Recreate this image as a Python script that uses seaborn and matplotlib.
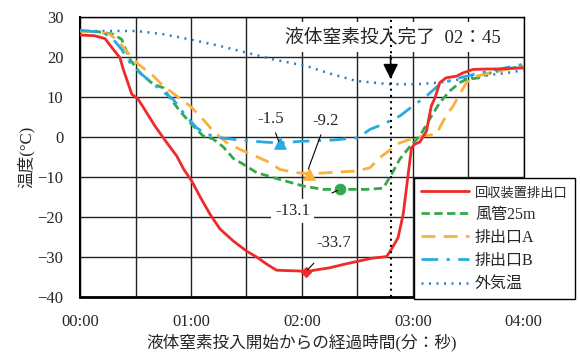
import matplotlib
matplotlib.use('Agg')
import matplotlib.pyplot as plt
import seaborn as sns

# time in seconds since start, temperature in deg C
t_red = [0, 8, 13.5, 18, 21.6, 23.4, 28, 31.5, 36, 40.5, 46.9, 52.3, 56, 60.4, 65, 70.3, 75.7, 82.9, 90, 95.5,
         101, 106.3, 112, 119, 122, 128, 135, 143, 151, 158, 165.8, 168.5, 172, 174.8, 177.5, 179.3, 181, 183.8,
         187.4, 190, 192, 194.6, 198, 203.6, 207, 212.6, 220, 227, 240]
v_red = [25.5, 25.3, 24.6, 21.9, 19.8, 16.9, 10.7, 9.4, 6.1, 2.75, -1.4, -4.75, -8.0, -11, -15, -19.3, -23, -26,
         -28.5, -30, -31.8, -33.3, -33.4, -33.5, -33.7, -33.2, -32.7, -31.8, -31, -30.3, -29.9, -28, -25.2, -19.3,
         -9.3, -2.7, -1.8, -1.25, 1.5, 7.75, 9.8, 13.6, 14.8, 15.2, 16, 16.9, 17, 17, 17.3]

t_green = [0, 10, 18, 22.5, 27, 32.4, 39.6, 45, 48.6, 54, 59.5, 66.6, 72, 77.5, 83, 88.3, 95.5, 108, 120.7, 131.5,
           140.5, 155, 164, 168.5, 173, 178.4, 183.8, 189, 194.6, 200, 205.4, 209, 216, 221.6, 230.6, 240]
v_green = [26.5, 26.3, 25.7, 24.4, 19.4, 16, 13.2, 12.3, 9.8, 6.5, 3.6, 0.25, -0.5, -2.5, -5.4, -6.8, -8.9, -10.6,
           -12.25, -13.1, -13.1, -13.1, -12.8, -9.3, -5.5, -2.4, 0.25, 4.4, 8.6, 11.5, 13.6, 14.4, 14.8, 16, 17, 17.7]

t_a = [0, 10, 16, 20.7, 25, 31.5, 38.7, 45, 52.3, 59.5, 66.6, 72, 79.3, 86.5, 95.5, 102.7, 108, 117, 124, 135,
       149.5, 156.8, 162, 165.8, 169, 171, 178.4, 185.6, 192.8, 195.5, 198, 201.8, 205.4, 209, 214.4, 221.6,
       230.6, 240]
v_a = [26.5, 26.2, 25.7, 24, 21.5, 18.2, 15.7, 12.75, 10.25, 7.75, 4.4, 1.5, -1.4, -3.1, -4.9, -6.4, -8.1, -8.9,
       -9.2, -8.9, -8.5, -7.7, -5.2, -3.9, -2.7, -1.8, -0.6, 0.25, 0.7, 3.2, 5.25, 7.75, 10.7, 13.6, 15.2, 16,
       16.9, 17.7]

t_b = [0, 12.6, 18, 22.5, 27, 33.3, 43.2, 50.4, 55.8, 63, 68.5, 75.7, 86.5, 99, 108, 119, 137, 150.4, 156.8,
       164, 173, 180, 187.4, 194.6, 201.8, 209, 216, 227, 240]
v_b = [26.7, 26.1, 24.4, 21.9, 18.6, 15.7, 11.9, 9.4, 6.1, 2.3, 0.7, -0.2, -0.75, -1.25, -1.5, -1.1, -0.75, -0.2,
       1.9, 3.2, 5.25, 7.75, 10.25, 13.2, 14.4, 15.2, 16, 17, 18.2]

t_out = [0, 30.6, 45, 59.5, 75.7, 90, 104.5, 122.5, 133.4, 149.5, 167.6, 182, 194.6, 205.4, 216, 230.6, 240]
v_out = [26.5, 26.5, 25.7, 24.4, 22.75, 21.1, 19.4, 17.75, 16.1, 14, 13.2, 13.2, 13.6, 14.4, 15.2, 16, 16.7]

labels = ['回収装置排出口', '風管25m', '排出口A', '排出口B', '外気温']
xticks = [0, 60, 120, 180, 240]
xticklabels = ['00:00', '01:00', '02:00', '03:00', '04:00']

# marked extremes: (time, value, label)
mark_b = (108, -1.5, '-1.5')
mark_a = (124, -9.2, '-9.2')
mark_g = (140.5, -13.1, '-13.1')
mark_r = (122, -33.7, '-33.7')
t_done = 168

sns.set_style('white')
plt.rcParams['font.family'] = ['Liberation Serif', 'Noto Sans CJK JP']

fig = plt.figure(figsize=(5.8, 3.54), dpi=100)
ax = fig.add_axes([0.138, 0.161, 0.765, 0.791])

red, green, orange, blue, navy = '#ee2a2a', '#35a84b', '#fbb03b', '#29abe2', '#2e7dc4'

sns.lineplot(x=t_red, y=v_red, ax=ax, color=red, lw=2, label=labels[0], zorder=5)
sns.lineplot(x=t_green, y=v_green, ax=ax, color=green, lw=2, linestyle=(0, (3, 1.6)), label=labels[1], zorder=4)
sns.lineplot(x=t_a, y=v_a, ax=ax, color=orange, lw=2, linestyle=(0, (5, 3)), label=labels[2], zorder=4)
sns.lineplot(x=t_b, y=v_b, ax=ax, color=blue, lw=2, linestyle=(0, (6, 3, 1.2, 3)), label=labels[3], zorder=4)
sns.lineplot(x=t_out, y=v_out, ax=ax, color=navy, lw=1.8, linestyle=(0, (0.8, 2.2)), label=labels[4], zorder=3)

# markers
sns.scatterplot(x=[mark_b[0]], y=[mark_b[1]], ax=ax, color=blue, marker='^', s=70, edgecolor=blue, zorder=6)
sns.scatterplot(x=[mark_a[0]], y=[mark_a[1]], ax=ax, color=orange, marker='^', s=70, edgecolor=orange, zorder=6)
sns.scatterplot(x=[mark_g[0]], y=[mark_g[1]], ax=ax, color=green, marker='o', s=60, edgecolor=green, zorder=6)
sns.scatterplot(x=[mark_r[0]], y=[mark_r[1]], ax=ax, color=red, marker='D', s=30, edgecolor=red, zorder=6)

arrow = dict(arrowstyle='-', color='black', lw=0.8)
ax.annotate(mark_b[2], xy=(mark_b[0], mark_b[1] - 0.3), xytext=(103, 4.5), fontsize=12, ha='center', va='center',
            arrowprops=arrow, zorder=7)
ax.annotate(mark_a[2], xy=(mark_a[0] - 1, mark_a[1] + 0.6), xytext=(133, 4), fontsize=12, ha='center', va='center',
            arrowprops=arrow, zorder=7)
ax.annotate(mark_g[2], xy=(mark_g[0], mark_g[1]), xytext=(115, -18.5), fontsize=12, ha='center', va='center',
            arrowprops=dict(arrowstyle='-', color='black', lw=0.8, shrinkA=14),
            bbox=dict(boxstyle='square,pad=0.25', fc='white', ec='none'), zorder=7)
ax.annotate(mark_r[2], xy=(mark_r[0], mark_r[1]), xytext=(137, -26.5), fontsize=12, ha='center', va='center',
            arrowprops=dict(arrowstyle='-', color='black', lw=0.8, shrinkA=8),
            bbox=dict(boxstyle='square,pad=0.25', fc='white', ec='none'), zorder=7)

# end of liquid nitrogen input
ax.axvline(t_done, color='black', lw=1.5, linestyle=(0, (1, 2)), zorder=8)
ax.text(169, 25, '液体窒素投入完了  02：45', fontsize=13.5, ha='center', va='center', zorder=7,
        bbox=dict(boxstyle='square,pad=0.3', fc='white', ec='none'))
ax.annotate('', xy=(t_done, 13.8), xytext=(t_done, 21), zorder=9,
            arrowprops=dict(arrowstyle='-|>,head_width=0.45,head_length=0.9', color='black', lw=1.2))

ax.set_xlim(0, 240)
ax.set_ylim(-40, 30)
ax.set_xticks(xticks)
ax.set_xticklabels(xticklabels)
ax.set_xticks(range(0, 241, 30), minor=True)
ax.set_yticks(range(-40, 31, 10))
ax.grid(True, which='both', color='#222222', lw=1.0, zorder=0)
ax.set_axisbelow(True)
ax.tick_params(axis='both', which='both', length=0, labelsize=12, pad=12)
for s in ax.spines.values():
    s.set_color('black')
    s.set_linewidth(1.0)
ax.spines['left'].set_linewidth(1.5)
ax.spines['bottom'].set_linewidth(2)

ax.set_xlabel('液体窒素投入開始からの経過時間(分：秒)', fontsize=12, labelpad=3)
ax.set_ylabel('温度(°C)', fontsize=12, labelpad=2)

leg = ax.legend(loc='upper left', bbox_to_anchor=(0.713, 0.497), bbox_transform=fig.transFigure,
                borderaxespad=0, fontsize=11.5, handlelength=3.0, handletextpad=0.4, labelspacing=0.45,
                borderpad=0.45, fancybox=False, framealpha=1, edgecolor='black')
leg.get_frame().set_linewidth(1.0)
leg.get_texts()[0].set_fontsize(9.5)
leg.set_zorder(10)

fig.savefig('out.png', dpi=100)
